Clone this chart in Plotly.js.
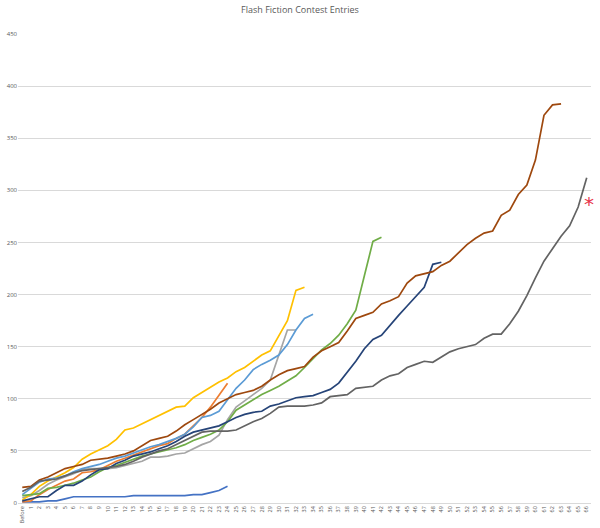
<!DOCTYPE html>
<html>
<head>
<meta charset="utf-8">
<script src="https://cdn.plot.ly/plotly-3.0.1.min.js"></script>
<style>html,body{margin:0;padding:0;background:#fff;}#chart{width:600px;height:528px;}</style>
</head>
<body>
<div id="chart"></div>
<script>
var categories = ["Before","1","2","3","4","5","6","7","8","9","10","11","12","13","14","15","16","17","18","19","20","21","22","23","24","25","26","27","28","29","30","31","32","33","34","35","36","37","38","39","40","41","42","43","44","45","46","47","48","49","50","51","52","53","54","55","56","57","58","59","60","61","62","63","64","65","66"];

var seriesBlue = [1,1,1,2,2,4,6,6,6,6,6,6,6,7,7,7,7,7,7,7,8,8,10,12,16];
var seriesOrange = [1,2,8,13,17,21,23,29,30,32,36,40,43,46,49,52,55,57,62,66,74,82,92,103,115];
var seriesGray = [5,7,12,18,22,25,28,32,33,33,33,34,36,38,40,44,44,45,47,48,52,56,59,65,80,92,98,104,110,118,142,166,166];
var seriesGold = [3,8,16,21,25,29,34,42,47,51,55,61,70,72,76,80,84,88,92,93,101,106,111,116,120,126,130,136,142,146,160,175,204,207];
var seriesLightBlue = [8,14,20,23,24,26,30,33,35,37,40,43,45,48,51,54,56,59,62,66,73,82,84,88,99,110,118,128,133,137,142,152,166,177,181];
var seriesGreen = [7,8,9,14,15,17,19,22,25,30,34,36,39,42,45,47,49,51,53,56,60,63,66,70,78,89,94,99,104,108,112,117,122,130,139,147,153,161,172,185,218,251,255];
var seriesNavy = [2,4,6,6,12,17,17,21,27,32,33,38,41,45,47,49,52,55,59,64,68,70,72,74,78,82,85,87,88,93,95,98,101,102,103,106,109,115,125,136,148,157,161,171,180,189,198,207,229,231];
var seriesBrown = [15,16,22,25,29,33,35,37,41,42,43,45,47,50,55,60,62,64,69,75,80,85,90,96,100,104,106,108,112,118,123,127,129,131,140,146,150,154,165,177,180,183,191,194,198,211,218,220,222,228,232,240,248,254,259,261,276,281,296,305,329,372,382,383];
var seriesDarkGray = [11,15,21,22,23,26,29,31,32,33,34,35,37,40,44,47,50,52,56,60,64,68,69,69,69,70,74,78,81,86,92,93,93,93,94,96,102,103,104,110,111,112,118,122,124,130,133,136,135,140,145,148,150,152,158,162,162,172,184,199,216,232,244,256,266,284,312];

var seriesList = [seriesBlue, seriesOrange, seriesGray, seriesGold, seriesLightBlue, seriesGreen, seriesNavy, seriesBrown, seriesDarkGray];
var colors = ["#4472C4","#ED7D31","#A5A5A5","#FFC000","#5B9BD5","#70AD47","#264478","#9E480E","#636363"];

var traces = seriesList.map(function(vals, k){
  return {
    type: 'scatter', mode: 'lines',
    x: categories.slice(0, vals.length),
    y: vals,
    line: {color: colors[k], width: 1.7},
    showlegend: false,
    hoverinfo: 'x+y'
  };
});

var layout = {
  width: 600, height: 528,
  margin: {l: 18, r: 9, t: 34, b: 25, pad: 0},
  paper_bgcolor: '#ffffff', plot_bgcolor: '#ffffff',
  font: {family: 'Open Sans, Liberation Sans, sans-serif', color: '#595959'},
  title: {text: 'Flash Fiction Contest Entries', font: {size: 9, color: '#595959'}, x: 0.5, xanchor: 'center', y: 0.981, yanchor: 'middle', yref: 'container'},
  xaxis: {
    type: 'category', categoryorder: 'array', categoryarray: categories,
    range: [-0.5, 66.5], showgrid: false, zeroline: false,
    showline: true, linecolor: '#d9d9d9', linewidth: 1,
    ticks: '', tickangle: -90, tickfont: {size: 5.5, color: '#595959'},
    tickmode: 'array', tickvals: categories, ticktext: categories
  },
  yaxis: {
    range: [0, 450], dtick: 50, tick0: 0,
    showgrid: true, gridcolor: '#d9d9d9', gridwidth: 1,
    zeroline: false, showline: false, ticks: '',
    tickfont: {size: 6, color: '#595959'}
  },
  annotations: [{
    x: '66', y: 291, xref: 'x', yref: 'y', text: '*', showarrow: false,
    font: {size: 20, color: '#E8334A', family: 'DejaVu Sans'},
    xanchor: 'center', yanchor: 'middle', xshift: 2, yshift: -4
  }]
};

Plotly.newPlot('chart', traces, layout, {displayModeBar: false, staticPlot: true});
</script>
</body>
</html>
